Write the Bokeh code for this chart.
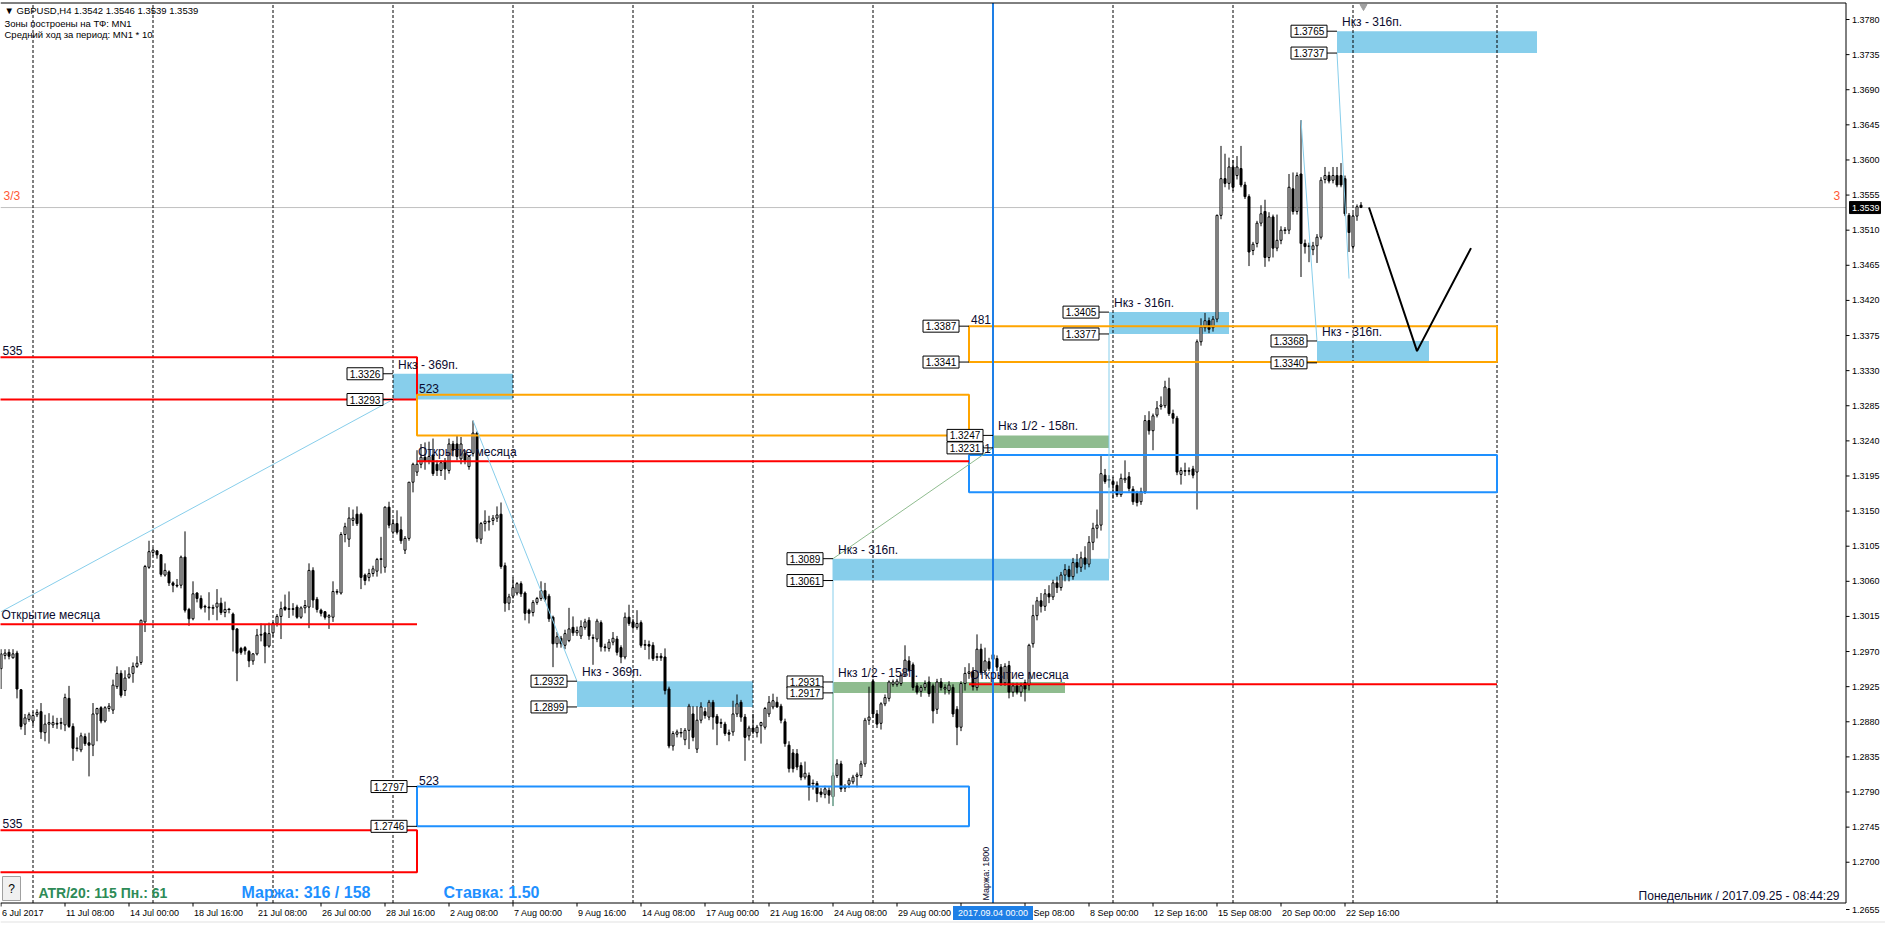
import math
from bokeh.plotting import figure
from bokeh.models import Range1d
from bokeh.core.properties import value
from bokeh.embed import file_html
from bokeh.resources import INLINE

# ---------------- data (prices written as 1.xxxx -> xxxx) ----------------
opens = [
    2948, 2965, 2969, 2962, 2968, 2921, 2877, 2883, 2881, 2889,
    2893, 2866, 2877, 2876, 2878, 2878, 2876, 2910, 2874, 2846,
    2844, 2861, 2853, 2850, 2890, 2898, 2881, 2897, 2895, 2925,
    2942, 2920, 2937, 2942, 2951, 2956, 3008, 3078, 3097, 3099,
    3094, 3068, 3072, 3058, 3055, 3055, 3091, 3024, 3012, 3045,
    3038, 3028, 3027, 3026, 3027, 3032, 3020, 3024, 3018, 2999,
    2974, 2975, 2970, 2958, 2967, 2991, 2994, 2977, 2994, 3006,
    3015, 3027, 3024, 3025, 3027, 3014, 3026, 3027, 3074, 3037,
    3023, 3021, 3014, 3014, 3046, 3045, 3120, 3114, 3138, 3146,
    3146, 3068, 3065, 3070, 3073, 3088, 3078, 3155, 3123, 3134,
    3126, 3100, 3115, 3187, 3200, 3210, 3219, 3214, 3222, 3210,
    3202, 3214, 3202, 3236, 3236, 3217, 3224, 3207, 3224, 3250,
    3114, 3134, 3137, 3138, 3141, 3146, 3080, 3032, 3041, 3045,
    3057, 3045, 3023, 3020, 3033, 3038, 3048, 3041, 3014, 2980,
    2987, 2978, 2984, 3001, 2994, 2990, 3001, 3010, 2988, 2986,
    3007, 2976, 2974, 2982, 2986, 2975, 2963, 3014, 3008, 3001,
    3007, 2978, 2979, 2978, 2963, 2964, 2963, 2922, 2849, 2864,
    2866, 2857, 2869, 2890, 2845, 2882, 2893, 2886, 2905, 2887,
    2879, 2877, 2866, 2867, 2890, 2905, 2886, 2862, 2872, 2866,
    2875, 2873, 2890, 2899, 2905, 2900, 2880, 2850, 2840, 2839,
    2824, 2809, 2811, 2801, 2801, 2790, 2787, 2792, 2784, 2811,
    2826, 2795, 2800, 2803, 2810, 2811, 2826, 2882, 2932, 2890,
    2878, 2903, 2910, 2928, 2928, 2929, 2940, 2958, 2953, 2926,
    2919, 2924, 2931, 2926, 2896, 2931, 2922, 2920, 2924, 2896,
    2873, 2929, 2942, 2944, 2924, 2973, 2945, 2957, 2960, 2961,
    2950, 2930, 2952, 2918, 2926, 2918, 2930, 2927, 2980, 3016,
    3035, 3028, 3044, 3040, 3058, 3052, 3068, 3075, 3066, 3084,
    3078, 3090, 3082, 3110, 3128, 3132, 3196, 3190, 3188, 3183,
    3171, 3190, 3194, 3178, 3173, 3162, 3175, 3266, 3253, 3273,
    3284, 3285, 3307, 3275, 3269, 3197, 3202, 3201, 3204, 3200,
    3367, 3385, 3394, 3385, 3396, 3529, 3576, 3570, 3591, 3580,
    3589, 3568, 3553, 3484, 3493, 3519, 3534, 3475, 3527, 3487,
    3497, 3510, 3510, 3563, 3534, 3582, 3493, 3489, 3485, 3490,
    3501, 3575, 3580, 3574, 3580, 3580, 3576, 3529, 3489, 3528,
    3542]
highs = [
    2973, 2973, 2973, 2973, 2971, 2922, 2890, 2892, 2893, 2896,
    2904, 2889, 2891, 2888, 2885, 2885, 2916, 2926, 2878, 2860,
    2866, 2865, 2866, 2904, 2898, 2900, 2900, 2904, 2934, 2951,
    2946, 2946, 2950, 2956, 2964, 3011, 3081, 3112, 3103, 3100,
    3095, 3083, 3074, 3060, 3063, 3093, 3124, 3026, 3060, 3046,
    3042, 3030, 3046, 3030, 3050, 3039, 3034, 3026, 3020, 3000,
    2976, 2977, 2972, 2968, 2999, 3006, 3005, 3007, 3008, 3018,
    3034, 3043, 3047, 3032, 3030, 3028, 3036, 3083, 3078, 3040,
    3025, 3022, 3018, 3060, 3050, 3123, 3135, 3155, 3152, 3156,
    3148, 3070, 3076, 3080, 3090, 3117, 3156, 3162, 3140, 3151,
    3143, 3118, 3187, 3212, 3228, 3236, 3238, 3239, 3243, 3215,
    3215, 3218, 3243, 3240, 3247, 3245, 3228, 3222, 3266, 3252,
    3136, 3151, 3144, 3145, 3156, 3161, 3084, 3044, 3065, 3059,
    3060, 3047, 3025, 3036, 3040, 3060, 3058, 3044, 3016, 2995,
    2990, 2998, 3026, 3015, 3002, 3010, 3012, 3014, 2992, 3012,
    3010, 2980, 2986, 2995, 2990, 2978, 3020, 3030, 3012, 3023,
    3010, 2985, 2984, 2982, 2968, 2968, 2974, 2925, 2868, 2870,
    2872, 2872, 2903, 2900, 2900, 2905, 2898, 2908, 2908, 2890,
    2884, 2880, 2870, 2907, 2915, 2908, 2890, 2875, 2890, 2876,
    2880, 2899, 2913, 2916, 2912, 2903, 2884, 2855, 2845, 2845,
    2828, 2829, 2815, 2806, 2804, 2795, 2798, 2796, 2815, 2832,
    2830, 2800, 2808, 2812, 2815, 2830, 2885, 2925, 2935, 2895,
    2905, 2915, 2933, 2934, 2935, 2942, 2978, 2964, 2956, 2930,
    2927, 2933, 2938, 2929, 2935, 2936, 2928, 2932, 2928, 2900,
    2932, 2950, 2955, 2950, 2992, 2980, 2975, 2962, 2970, 2965,
    2954, 2955, 2958, 2930, 2930, 2930, 2934, 2980, 3030, 3040,
    3045, 3050, 3055, 3062, 3066, 3072, 3082, 3080, 3090, 3095,
    3098, 3105, 3118, 3135, 3152, 3221, 3204, 3196, 3194, 3188,
    3198, 3215, 3200, 3182, 3176, 3180, 3273, 3278, 3275, 3291,
    3297, 3317, 3321, 3280, 3272, 3206, 3212, 3206, 3208, 3370,
    3397, 3404, 3398, 3400, 3530, 3618, 3608, 3603, 3600, 3605,
    3618, 3572, 3556, 3495, 3522, 3542, 3549, 3533, 3530, 3530,
    3515, 3514, 3582, 3584, 3584, 3651, 3498, 3494, 3495, 3505,
    3578, 3591, 3585, 3591, 3591, 3596, 3580, 3532, 3532, 3543,
    3546]
lows = [
    2922, 2960, 2960, 2961, 2910, 2870, 2863, 2880, 2875, 2886,
    2858, 2855, 2852, 2872, 2871, 2870, 2868, 2872, 2830, 2842,
    2841, 2849, 2810, 2836, 2855, 2878, 2879, 2893, 2890, 2922,
    2911, 2913, 2935, 2930, 2949, 2953, 2995, 3076, 3092, 3089,
    3066, 3066, 3054, 3046, 3052, 3051, 3020, 3003, 3010, 3033,
    3024, 3020, 3010, 3017, 3010, 3017, 3014, 3019, 2970, 2932,
    2966, 2966, 2950, 2953, 2965, 2983, 2955, 2975, 2989, 3002,
    2986, 3022, 3013, 3016, 3012, 3012, 3019, 3000, 3026, 3020,
    3015, 3011, 2999, 3008, 3043, 3043, 3110, 3104, 3131, 3131,
    3050, 3055, 3060, 3066, 3066, 3070, 3071, 3128, 3120, 3120,
    3108, 3095, 3112, 3174, 3195, 3205, 3203, 3210, 3195, 3195,
    3195, 3190, 3198, 3220, 3215, 3210, 3210, 3203, 3220, 3110,
    3108, 3124, 3125, 3132, 3136, 3076, 3021, 3023, 3038, 3042,
    3040, 3010, 3006, 3015, 3030, 3035, 3034, 3008, 2950, 2975,
    2975, 2973, 2982, 2990, 2990, 2986, 2998, 2985, 2953, 2982,
    2970, 2970, 2970, 2978, 2965, 2955, 2960, 3003, 2998, 2998,
    2975, 2972, 2960, 2958, 2958, 2958, 2915, 2846, 2843, 2860,
    2860, 2850, 2845, 2855, 2840, 2878, 2884, 2882, 2870, 2850,
    2872, 2862, 2855, 2862, 2886, 2880, 2830, 2856, 2864, 2860,
    2852, 2870, 2886, 2896, 2898, 2878, 2848, 2815, 2815, 2818,
    2805, 2806, 2779, 2793, 2777, 2783, 2782, 2775, 2772, 2808,
    2790, 2790, 2795, 2800, 2796, 2808, 2822, 2876, 2885, 2872,
    2870, 2900, 2906, 2925, 2925, 2926, 2938, 2944, 2920, 2915,
    2912, 2920, 2912, 2878, 2890, 2920, 2915, 2915, 2886, 2850,
    2868, 2920, 2935, 2920, 2920, 2940, 2940, 2945, 2955, 2945,
    2926, 2926, 2910, 2912, 2915, 2912, 2906, 2920, 2975, 3010,
    3020, 3022, 3032, 3036, 3045, 3048, 3060, 3060, 3062, 3070,
    3072, 3075, 3078, 3100, 3115, 3125, 3185, 3180, 3166, 3168,
    3168, 3186, 3175, 3158, 3156, 3158, 3172, 3248, 3228, 3270,
    3280, 3282, 3272, 3262, 3196, 3184, 3195, 3196, 3192, 3152,
    3362, 3380, 3378, 3380, 3392, 3524, 3565, 3562, 3560, 3575,
    3565, 3550, 3464, 3478, 3488, 3515, 3463, 3470, 3475, 3483,
    3492, 3505, 3505, 3530, 3530, 3450, 3480, 3469, 3478, 3468,
    3498, 3570, 3570, 3570, 3565, 3565, 3528, 3482, 3485, 3522,
    3539]
closes = [
    2967, 2968, 2964, 2967, 2922, 2874, 2885, 2889, 2888, 2892,
    2867, 2877, 2879, 2879, 2877, 2879, 2911, 2874, 2846, 2846,
    2862, 2852, 2850, 2890, 2897, 2881, 2898, 2900, 2927, 2942,
    2914, 2936, 2941, 2951, 2955, 3010, 3079, 3098, 3100, 3094,
    3069, 3074, 3058, 3055, 3054, 3091, 3023, 3012, 3044, 3038,
    3026, 3027, 3026, 3026, 3032, 3020, 3024, 3024, 2998, 2968,
    2969, 2971, 2958, 2967, 2991, 2992, 2977, 2993, 3006, 3015,
    3025, 3024, 3025, 3024, 3014, 3026, 3029, 3074, 3036, 3024,
    3019, 3014, 3016, 3047, 3047, 3120, 3130, 3141, 3141, 3134,
    3065, 3061, 3070, 3076, 3088, 3089, 3155, 3132, 3134, 3123,
    3112, 3115, 3187, 3210, 3210, 3219, 3214, 3220, 3198, 3202,
    3212, 3204, 3236, 3228, 3220, 3236, 3215, 3220, 3250, 3115,
    3134, 3137, 3136, 3141, 3145, 3079, 3032, 3040, 3052, 3057,
    3044, 3019, 3019, 3033, 3038, 3048, 3037, 3012, 2980, 2989,
    2980, 2993, 2999, 2994, 2997, 3002, 3008, 2990, 2987, 3009,
    2976, 2975, 2982, 2987, 2969, 2963, 3014, 3006, 3001, 3006,
    2978, 2979, 2977, 2961, 2963, 2962, 2920, 2849, 2865, 2867,
    2866, 2869, 2900, 2860, 2882, 2899, 2888, 2905, 2886, 2878,
    2878, 2865, 2864, 2890, 2903, 2886, 2860, 2872, 2867, 2873,
    2879, 2897, 2905, 2907, 2899, 2882, 2852, 2820, 2820, 2822,
    2809, 2814, 2796, 2801, 2788, 2787, 2794, 2786, 2811, 2826,
    2794, 2797, 2805, 2809, 2812, 2826, 2882, 2886, 2890, 2877,
    2903, 2911, 2931, 2931, 2932, 2939, 2959, 2946, 2924, 2918,
    2924, 2929, 2916, 2894, 2931, 2924, 2924, 2927, 2890, 2873,
    2929, 2942, 2944, 2925, 2973, 2943, 2958, 2948, 2966, 2950,
    2930, 2951, 2918, 2926, 2918, 2926, 2922, 2978, 3016, 3035,
    3028, 3044, 3040, 3058, 3052, 3068, 3075, 3066, 3084, 3078,
    3090, 3082, 3110, 3128, 3132, 3198, 3188, 3190, 3184, 3171,
    3192, 3192, 3179, 3162, 3161, 3175, 3266, 3253, 3272, 3282,
    3286, 3309, 3275, 3269, 3200, 3202, 3201, 3202, 3196, 3367,
    3386, 3394, 3383, 3396, 3529, 3576, 3570, 3591, 3565, 3591,
    3568, 3553, 3482, 3492, 3519, 3531, 3475, 3527, 3487, 3497,
    3510, 3510, 3565, 3534, 3580, 3493, 3489, 3490, 3490, 3501,
    3574, 3580, 3573, 3580, 3568, 3568, 3531, 3507, 3528, 3540,
    3539]

# x axis labels (bar index of each label)
tick_bars = [0, 16, 32, 48, 64, 80, 96, 112, 128, 144, 160, 176, 192, 208,
             224, 240, 256, 272, 288, 304, 320, 336]
tick_text = ["6 Jul 2017", "11 Jul 08:00", "14 Jul 00:00", "18 Jul 16:00",
             "21 Jul 08:00", "26 Jul 00:00", "28 Jul 16:00", "2 Aug 08:00",
             "7 Aug 00:00", "9 Aug 16:00", "14 Aug 08:00", "17 Aug 00:00",
             "21 Aug 16:00", "24 Aug 08:00", "29 Aug 00:00", "31 Aug 16:00",
             "5 Sep 08:00", "8 Sep 00:00", "12 Sep 16:00", "15 Sep 08:00",
             "20 Sep 00:00", "22 Sep 16:00"]
price_ticks = [1.2700, 1.2745, 1.2790, 1.2835, 1.2880, 1.2925, 1.2970,
               1.3015, 1.3060, 1.3105, 1.3150, 1.3195, 1.3240, 1.3285, 1.3330,
               1.3375, 1.3420, 1.3465, 1.3510, 1.3555, 1.3600, 1.3645, 1.3690,
               1.3735, 1.3780]
bottom_price_label = "1.2655"
week_sep_bars = [8, 38, 68, 98, 128, 158, 188, 218, 248, 278, 308, 338, 374]
vline_bar = 248
vline_date = "2017.09.04 00:00"
bid = 1.3539

# monthly zones: Jul, Aug, Sep
month_start = [-40, 104, 242]
month_end = [104, 242, 374]
month_open = [1.3005, 1.3214, 1.2928]
upper_top = [1.3347, 1.3299, 1.3387]
upper_bot = [1.3293, 1.3247, 1.3341]
lower_top = [1.2741, 1.2797, 1.3222]
lower_bot = [1.2687, 1.2746, 1.3174]
upper_color = ["#FF0000", "#FFA500", "#FFA500"]
lower_color = ["#FF0000", "#1E90FF", "#1E90FF"]
range_label = ["535", "523", "481"]

# Нкз zones
zone_left = [98, 144, 208, 208, 248, 277, 329, 334]
zone_right = [128, 188, 277, 266, 277, 307, 357, 384]
zone_top = [1.3326, 1.2932, 1.3089, 1.2931, 1.3247, 1.3405, 1.3368, 1.3765]
zone_bot = [1.3293, 1.2899, 1.3061, 1.2917, 1.3231, 1.3377, 1.3340, 1.3737]
zone_color = ["#87CEEB", "#87CEEB", "#87CEEB", "#8FBC8F", "#8FBC8F",
              "#87CEEB", "#87CEEB", "#87CEEB"]
zone_text = ["Нкз - 369п.", "Нкз - 369п.", "Нкз - 316п.", "Нкз 1/2 - 158п.",
             "Нкз 1/2 - 158п.", "Нкз - 316п.", "Нкз - 316п.", "Нкз - 316п."]

# extra edge price labels (monthly rectangles)
edge_lbl_bar = [104, 104, 242, 242]
edge_lbl_price = [1.2797, 1.2746, 1.3387, 1.3341]

# connecting trend lines
tl_x0 = [0, 118, 208, 277, 325, 334]
tl_y0 = [1.3021, 1.3266, 1.2772, 1.3089, 1.3651, 1.3737]
tl_x1 = [98, 144, 208, 277, 329, 337]
tl_y1 = [1.3293, 1.2932, 1.3089, 1.3377, 1.3368, 1.3448]
gl_x0 = [208, 208]
gl_y0 = [1.2772, 1.3089]
gl_x1 = [208, 248]
gl_y1 = [1.2917, 1.3231]

# forecast polyline
proj_x = [342, 354, 367.5]
proj_y = [1.3539, 1.3355, 1.3487]

# ---------------- layout helpers (page pixel -> data) ----------------
def U(px):
    return (px - 0.5) / 4.0


def P(py):
    return 1.3780 - (py - 19.0) / 7803.0


FONT = "Liberation Sans"
TXT = "#0b0b2e"
W, H = 1885, 923

n = min(len(opens), len(highs), len(lows), len(closes))
idx = list(range(n))
o = [1 + v / 10000 for v in opens[:n]]
c = [1 + v / 10000 for v in closes[:n]]
h = [max(1 + highs[i] / 10000, o[i], c[i]) for i in idx]
l = [min(1 + lows[i] / 10000, o[i], c[i]) for i in idx]

p = figure(frame_width=W, frame_height=H,
           x_range=Range1d(U(0), U(W)), y_range=Range1d(P(H), P(0)),
           output_backend="svg", toolbar_location=None, min_border=0,
           x_axis_location=None, y_axis_location=None, outline_line_color=None,
           background_fill_color="white", border_fill_color="white")
p.xgrid.visible = False
p.ygrid.visible = False

XR = U(1845.5)          # right edge of chart area (price scale line)
YT, YB = P(2.5), P(902.5)


def txt(x, y, s, size="12px", color=TXT, align="left", baseline="middle",
        bold=False, angle=0.0, x_offset=0, y_offset=0):
    p.text(x=[x], y=[y], text=[s], text_font=value(FONT), text_font_size=size,
           text_color=color, text_align=align, text_baseline=baseline,
           text_font_style="bold" if bold else "normal", angle=angle,
           x_offset=x_offset, y_offset=y_offset)


# window background strip under the time scale
p.quad(left=[U(0)], right=[U(W)], top=[P(920.5)], bottom=[P(H)],
       fill_color="#F0F0F0", line_color=None)

# zone fills
p.quad(left=zone_left, right=zone_right, top=zone_top, bottom=zone_bot,
       fill_color=zone_color, line_color=None)

# bid line
p.segment(x0=[U(0)], y0=[bid], x1=[XR], y1=[bid], line_color="#C0C0C0", line_width=1)

# weekly separators
p.segment(x0=week_sep_bars, y0=[YB] * len(week_sep_bars), x1=week_sep_bars,
          y1=[YT] * len(week_sep_bars), line_color="black", line_width=1,
          line_dash="3 2")

# candles
body_top = [max(o[i], c[i]) for i in idx]
body_bot = [min(o[i], c[i]) for i in idx]
fills = ["white" if c[i] >= o[i] else "black" for i in idx]
p.segment(x0=idx, y0=l, x1=idx, y1=h, line_color="black", line_width=1)
p.vbar(x=idx, width=0.5, top=body_top, bottom=body_bot, fill_color=fills,
       line_color="black", line_width=1)
doji = [i for i in idx if abs(o[i] - c[i]) < 0.00006]
p.segment(x0=[i - 0.375 for i in doji], y0=[c[i] for i in doji],
          x1=[i + 0.375 for i in doji], y1=[c[i] for i in doji],
          line_color="black", line_width=1)

# monthly rectangles
p.quad(left=month_start, right=month_end, top=upper_top, bottom=upper_bot,
       fill_alpha=0, line_color=upper_color, line_width=2)
p.quad(left=month_start, right=month_end, top=lower_top, bottom=lower_bot,
       fill_alpha=0, line_color=lower_color, line_width=2)
p.segment(x0=month_start, y0=month_open, x1=month_end, y1=month_open,
          line_color="#FF0000", line_width=2)

# trend lines
p.segment(x0=tl_x0, y0=tl_y0, x1=tl_x1, y1=tl_y1, line_color="#87CEEB", line_width=1)
p.segment(x0=gl_x0, y0=gl_y0, x1=gl_x1, y1=gl_y1, line_color="#8FBC8F", line_width=1)

# vertical blue line
p.segment(x0=[vline_bar], y0=[YB], x1=[vline_bar], y1=[YT], line_color="#1E7FE6",
          line_width=2)

# forecast
p.line(proj_x, proj_y, line_color="black", line_width=2)

# zone texts
p.text(x=zone_left, y=zone_top, text=zone_text, x_offset=5, y_offset=-2,
       text_align="left", text_baseline="bottom", text_font=value(FONT),
       text_font_size="12px", text_color=TXT)

# range labels (535/523/481) and month-open captions
rl_x = [max(s, U(0)) for s in month_start]
p.text(x=rl_x + rl_x, y=upper_top + lower_top, text=range_label + range_label,
       x_offset=2, y_offset=-2, text_align="left", text_baseline="bottom",
       text_font=value(FONT), text_font_size="12px", text_color=TXT)
p.text(x=rl_x, y=month_open, text=["Открытие месяца"] * 3, x_offset=1, y_offset=-2,
       text_align="left", text_baseline="bottom", text_font=value(FONT),
       text_font_size="12px", text_color=TXT)

# price label boxes
bx_bar = zone_left + zone_left + edge_lbl_bar
bx_price = zone_top + zone_bot + edge_lbl_price
p.segment(x0=[b - 2.5 for b in bx_bar], y0=bx_price, x1=bx_bar, y1=bx_price,
          line_color="black", line_width=1)
p.rect(x=[b - 7 for b in bx_bar], y=bx_price, width=36, height=12,
       width_units="screen", height_units="screen", fill_color="white",
       line_color="black", line_width=1)
p.text(x=[b - 7 for b in bx_bar], y=bx_price, text=["%.4f" % v for v in bx_price],
       text_align="center", text_baseline="middle", text_font=value(FONT),
       text_font_size="10px", text_color="black")

# chart frame lines (top, bottom, price-scale line)
p.segment(x0=[U(0), U(0), XR], y0=[YT, YB, YT], x1=[XR, XR, XR], y1=[YT, YB, YB],
          line_color="black", line_width=1)

# price scale: ticks and labels
p.segment(x0=[XR] * len(price_ticks), y0=price_ticks,
          x1=[U(1849)] * len(price_ticks), y1=price_ticks,
          line_color="black", line_width=1)
p.text(x=[U(1851.5)] * len(price_ticks), y=price_ticks,
       text=["%.4f" % v for v in price_ticks], text_align="left",
       text_baseline="middle", text_font=value(FONT), text_font_size="9px",
       text_color="black")
p.segment(x0=[XR], y0=[P(909)], x1=[U(1849)], y1=[P(909)], line_color="black")
txt(U(1851.5), P(909), bottom_price_label, size="9px", color="black")

# current price tag
p.rect(x=[U(1864.5)], y=[bid], width=31, height=12, width_units="screen",
       height_units="screen", fill_color="black", line_color="black")
txt(U(1851.5), bid, "%.4f" % bid, size="9px", color="white")

# time scale: ticks and labels
p.segment(x0=tick_bars, y0=[YB] * len(tick_bars), x1=tick_bars,
          y1=[P(906)] * len(tick_bars), line_color="black", line_width=1)
p.text(x=tick_bars, y=[P(912.5)] * len(tick_bars), text=tick_text, x_offset=1,
       text_align="left", text_baseline="middle", text_font=value(FONT),
       text_font_size="9px", text_color="black")
# highlighted date of the vertical line
p.rect(x=[vline_bar], y=[P(912.5)], width=80, height=14, width_units="screen",
       height_units="screen", fill_color="#1E7FE6", line_color=None)
txt(vline_bar, P(912.5), vline_date, size="9px", color="white", align="center")

# '?' button
p.rect(x=[U(11)], y=[P(888)], width=18, height=24, width_units="screen",
       height_units="screen", fill_color="#F0F0F0", line_color="#A0A0A0")
txt(U(11), P(888), "?", size="12px", color="black", align="center")

# shift marker
p.scatter(x=[U(1363)], y=[P(6)], marker="inverted_triangle", size=7,
          fill_color="#A0A0A0", line_color="#A0A0A0")

# header texts
txt(U(4), P(9.5), "▼ GBPUSD,H4  1.3542 1.3546 1.3539 1.3539", size="9.5px", color="black")
txt(U(4), P(22.5), "Зоны построены на ТФ: MN1", size="9.5px", color="black")
txt(U(4), P(33.5), "Средний ход за период: MN1 * 10", size="9.5px", color="black")
txt(U(3), P(195), "3/3", size="12px", color="#FF5A36")
txt(U(1833), P(195), "3", size="12px", color="#FF5A36")

# bottom info texts
txt(U(38), P(892), "ATR/20: 115  Пн.: 61", size="14px", color="#2E8B57", bold=True)
txt(U(241), P(892), "Маржа: 316 / 158", size="16px", color="#1E90FF", bold=True)
txt(U(443), P(892), "Ставка: 1.50", size="16px", color="#1E90FF", bold=True)
txt(U(1839), P(895), "Понедельник / 2017.09.25 - 08:44:29", size="12px",
    color=TXT, align="right")
txt(vline_bar, P(900), "Маржа: 1800", size="9px", color=TXT, align="left",
    baseline="bottom", angle=math.pi / 2, x_offset=-2)

html = file_html(p, INLINE, "GBPUSD,H4")
with open("out.html", "w", encoding="utf-8") as f:
    f.write(html)
